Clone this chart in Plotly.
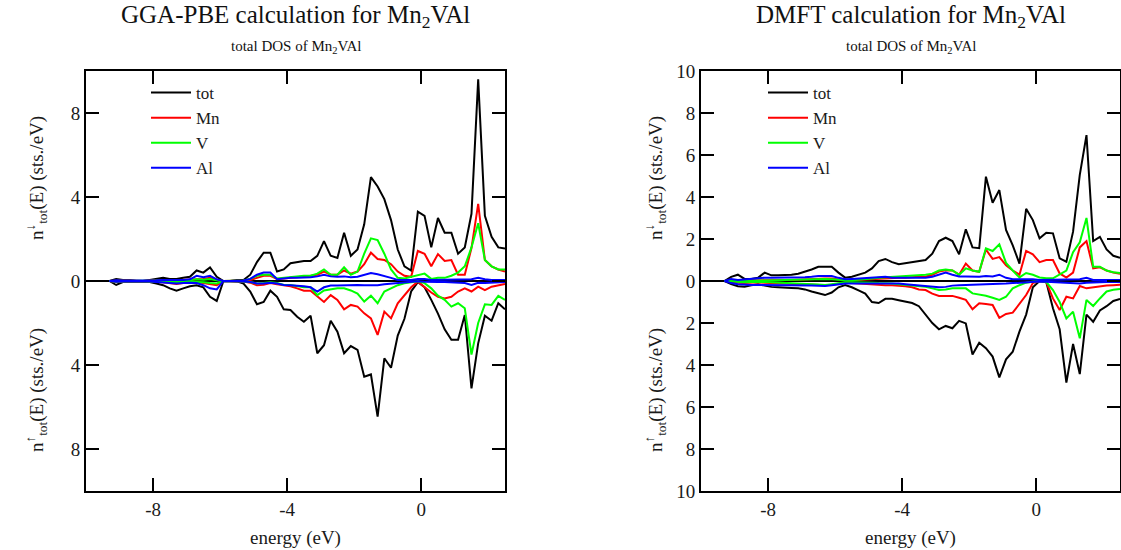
import plotly.graph_objects as go
from plotly.subplots import make_subplots

# ===== data =====
energy = [-9.3, -9.1, -8.9, -8.7, -8.5, -8.3, -8.1, -7.9, -7.7, -7.5,
          -7.3, -7.1, -6.9, -6.7, -6.5, -6.3, -6.1, -5.9, -5.7, -5.5,
          -5.3, -5.1, -4.9, -4.7, -4.5, -4.3, -4.1, -3.9, -3.7, -3.5,
          -3.3, -3.1, -2.9, -2.7, -2.5, -2.3, -2.1, -1.9, -1.7, -1.5,
          -1.3, -1.1, -0.9, -0.7, -0.5, -0.3, -0.1, 0.1, 0.3, 0.5,
          0.7, 0.9, 1.1, 1.3, 1.5, 1.7, 1.9, 2.1, 2.3, 2.5]

# GGA-PBE, spin down (upper half)
gga_tot_dn = [0, 0.1, 0.05, 0.05, 0, 0, 0.05, 0.1, 0.15, 0.1,
              0.1, 0.15, 0.2, 0.5, 0.4, 0.65, 0.2, 0, 0, 0.05,
              0.05, 0.3, 0.9, 1.35, 1.35, 0.45, 0.55, 0.85, 0.9, 0.95,
              0.95, 1.2, 1.9, 1.2, 1.1, 2.3, 1.2, 1.5, 2.7, 4.95,
              4.5, 3.9, 2.9, 1.5, 0.7, 0.5, 3.3, 3.1, 1.6, 3.0,
              2.3, 2.3, 1.3, 1.6, 3.2, 9.6, 3.1, 2.1, 1.6, 1.55]
gga_mn_dn = [0, 0.02, 0.02, 0.02, 0, 0, 0.02, 0.03, 0.05, 0.03,
             0.03, 0.05, 0.05, 0.1, 0.1, 0.15, 0.05, 0, 0, 0,
             0.02, 0.05, 0.15, 0.25, 0.25, 0.1, 0.12, 0.15, 0.2, 0.2,
             0.25, 0.3, 0.45, 0.3, 0.3, 0.5, 0.35, 0.45, 0.8, 1.35,
             1.05, 1.0, 0.8, 0.45, 0.25, 0.2, 1.43, 1.3, 0.7, 1.28,
             0.95, 1.0, 0.3, 0.3, 1.57, 3.67, 1.0, 0.7, 0.55, 0.45]
gga_v_dn = [0, 0.02, 0.01, 0.01, 0, 0, 0.01, 0.02, 0.02, 0.02,
            0.02, 0.03, 0.03, 0.08, 0.06, 0.1, 0.03, 0, 0, 0,
            0.02, 0.1, 0.25, 0.3, 0.3, 0.12, 0.15, 0.2, 0.22, 0.25,
            0.25, 0.35, 0.55, 0.3, 0.3, 0.65, 0.3, 0.45, 1.3, 2.03,
            1.95, 1.3, 0.55, 0.15, 0.12, 0.2, 0.3, 0.35, 0.1, 0.15,
            0.15, 0.25, 0.4, 0.7, 1.6, 2.75, 1.0, 0.7, 0.55, 0.55]
gga_al_dn = [0, 0.03, 0.02, 0.02, 0, 0, 0.02, 0.03, 0.05, 0.04,
             0.04, 0.05, 0.08, 0.25, 0.18, 0.25, 0.08, 0, 0, 0,
             0.02, 0.1, 0.3, 0.4, 0.4, 0.08, 0.12, 0.15, 0.15, 0.15,
             0.18, 0.22, 0.3, 0.22, 0.2, 0.22, 0.18, 0.2, 0.3, 0.38,
             0.32, 0.25, 0.15, 0.05, 0.05, 0.05, 0.1, 0.1, 0.05, 0.05,
             0.05, 0.05, 0.05, 0.05, 0.08, 0.15, 0.08, 0.05, 0.05, 0.05]

# GGA-PBE, spin up (lower half, plotted negative)
gga_tot_up = [0, 0.19, 0.05, 0.05, 0.02, 0.02, 0.05, 0.12, 0.2, 0.35,
              0.46, 0.35, 0.25, 0.2, 0.3, 0.75, 0.95, 0, 0, 0.02,
              0.12, 0.5, 1.11, 1.0, 0.46, 0.75, 1.35, 1.38, 1.7, 1.94,
              1.65, 3.44, 3.06, 1.89, 2.41, 3.44, 3.1, 3.28, 4.56, 4.45,
              6.46, 3.68, 4.13, 2.6, 1.8, 0.5, 0.05, 0.3, 0.9, 1.55,
              2.3, 2.8, 2.8, 1.62, 5.11, 2.97, 1.65, 1.89, 1.06, 1.35]
gga_mn_up = [0, 0.05, 0.02, 0.02, 0.01, 0.01, 0.02, 0.04, 0.06, 0.1,
             0.14, 0.1, 0.08, 0.06, 0.1, 0.15, 0.2, 0, 0, 0,
             0.03, 0.08, 0.2, 0.18, 0.1, 0.15, 0.19, 0.25, 0.35, 0.46,
             0.46, 0.71, 1.0, 0.67, 0.9, 1.35, 1.14, 1.22, 1.54, 1.78,
             2.57, 1.46, 1.78, 1.06, 0.67, 0.3, 0.03, 0.3, 0.55, 0.75,
             0.83, 0.75, 0.5, 0.35, 0.5, 0.27, 0.43, 0.27, 0.2, 0.14]
gga_v_up = [0, 0.03, 0.01, 0.01, 0, 0, 0.01, 0.02, 0.03, 0.05,
            0.06, 0.05, 0.04, 0.04, 0.06, 0.1, 0.12, 0, 0, 0,
            0.02, 0.05, 0.12, 0.1, 0.06, 0.1, 0.19, 0.19, 0.25, 0.3,
            0.3, 0.67, 0.45, 0.4, 0.35, 0.35, 0.45, 0.6, 0.98, 0.7,
            1.06, 0.5, 0.35, 0.2, 0.11, 0.05, 0.01, 0.1, 0.35, 0.7,
            0.9, 1.22, 1.06, 1.3, 3.5, 2.0, 1.11, 1.14, 0.71, 0.9]
gga_al_up = [0, 0.03, 0.02, 0.02, 0.01, 0.01, 0.02, 0.05, 0.08, 0.1,
             0.12, 0.1, 0.08, 0.1, 0.2, 0.35, 0.4, 0, 0, 0,
             0.02, 0.05, 0.12, 0.12, 0.08, 0.12, 0.19, 0.2, 0.22, 0.25,
             0.3, 0.5, 0.3, 0.22, 0.22, 0.2, 0.19, 0.19, 0.2, 0.19,
             0.2, 0.15, 0.12, 0.1, 0.08, 0.05, 0.01, 0.03, 0.05, 0.05,
             0.05, 0.06, 0.08, 0.1, 0.19, 0.08, 0.1, 0.08, 0.06, 0.05]

# DMFT, spin down (upper half)
dmft_tot_dn = [0, 0.2, 0.3, 0.1, 0.1, 0.15, 0.4, 0.27, 0.27, 0.27,
               0.3, 0.35, 0.44, 0.55, 0.68, 0.68, 0.68, 0.4, 0.16, 0.2,
               0.3, 0.4, 0.6, 0.95, 1.05, 0.9, 0.8, 0.85, 0.9, 0.95,
               1.0, 1.3, 1.9, 2.06, 1.9, 1.27, 2.46, 1.6, 1.56, 4.97,
               3.73, 4.33, 2.43, 1.7, 0.83, 3.44, 2.9, 2.03, 2.3, 2.27,
               1.08, 0.92, 2.35, 5.05, 6.95, 1.9, 2.1, 1.5, 1.2, 1.1]
dmft_mn_dn = [0, 0.02, 0.03, 0.02, 0.02, 0.02, 0.05, 0.05, 0.05, 0.05,
              0.05, 0.06, 0.08, 0.1, 0.12, 0.12, 0.12, 0.08, 0.03, 0.03,
              0.05, 0.06, 0.08, 0.1, 0.12, 0.12, 0.15, 0.15, 0.18, 0.2,
              0.2, 0.3, 0.45, 0.51, 0.5, 0.3, 0.83, 0.5, 0.44, 1.5,
              1.05, 1.14, 0.75, 0.5, 0.3, 1.43, 1.27, 0.9, 1.0, 1.0,
              0.36, 0.16, 0.4, 1.6, 1.9, 0.6, 0.65, 0.5, 0.4, 0.35]
dmft_v_dn = [0, 0.02, 0.02, 0.01, 0.01, 0.01, 0.03, 0.03, 0.04, 0.05,
             0.06, 0.07, 0.08, 0.1, 0.1, 0.1, 0.08, 0.05, 0.03, 0.03,
             0.05, 0.08, 0.12, 0.15, 0.17, 0.2, 0.22, 0.25, 0.28, 0.3,
             0.3, 0.35, 0.5, 0.55, 0.5, 0.3, 0.6, 0.5, 0.44, 1.56,
             1.43, 1.75, 0.86, 0.5, 0.17, 0.38, 0.3, 0.17, 0.13, 0.13,
             0.3, 0.5, 1.37, 1.84, 3.0, 0.68, 0.68, 0.5, 0.42, 0.38]
dmft_al_dn = [0, 0.1, 0.05, 0.08, 0.12, 0.15, 0.16, 0.16, 0.16, 0.16,
              0.16, 0.17, 0.18, 0.2, 0.24, 0.24, 0.24, 0.15, 0.08, 0.1,
              0.12, 0.14, 0.16, 0.2, 0.2, 0.16, 0.16, 0.16, 0.16, 0.16,
              0.16, 0.2, 0.3, 0.4, 0.3, 0.22, 0.22, 0.2, 0.2, 0.24,
              0.22, 0.3, 0.15, 0.08, 0.08, 0.1, 0.08, 0.05, 0.05, 0.05,
              0.05, 0.05, 0.05, 0.08, 0.15, 0.05, 0.05, 0.05, 0.05, 0.05]

# DMFT, spin up (lower half, plotted negative)
dmft_tot_up = [0, 0.15, 0.25, 0.27, 0.2, 0.15, 0.22, 0.28, 0.3, 0.3,
               0.33, 0.35, 0.4, 0.5, 0.6, 0.67, 0.55, 0.3, 0.19, 0.3,
               0.45, 0.6, 1.0, 1.05, 0.85, 0.85, 0.92, 0.98, 1.05, 1.2,
               1.6, 2.0, 2.3, 2.14, 2.25, 1.9, 2.02, 3.5, 2.94, 3.2,
               3.6, 4.59, 3.73, 3.37, 2.41, 1.6, 0.3, 0.0, 0.05, 1.3,
               2.3, 4.84, 3.0, 4.43, 1.6, 1.94, 1.4, 1.2, 0.95, 0.85]
dmft_mn_up = [0, 0.05, 0.08, 0.1, 0.08, 0.06, 0.08, 0.1, 0.12, 0.13,
              0.14, 0.15, 0.16, 0.18, 0.18, 0.2, 0.18, 0.12, 0.08, 0.1,
              0.12, 0.15, 0.18, 0.2, 0.2, 0.2, 0.22, 0.25, 0.3, 0.4,
              0.43, 0.6, 0.71, 0.7, 0.71, 0.8, 0.9, 1.35, 1.06, 1.1,
              1.14, 1.75, 1.57, 1.51, 1.06, 0.67, 0.1, 0.0, 0.05, 0.83,
              1.38, 0.75, 0.83, 0.24, 0.35, 0.3, 0.27, 0.22, 0.2, 0.18]
dmft_v_up = [0, 0.03, 0.05, 0.06, 0.05, 0.04, 0.05, 0.06, 0.07, 0.08,
             0.1, 0.12, 0.13, 0.15, 0.17, 0.19, 0.15, 0.1, 0.06, 0.06,
             0.06, 0.07, 0.08, 0.1, 0.1, 0.12, 0.15, 0.18, 0.2, 0.22,
             0.27, 0.35, 0.43, 0.4, 0.35, 0.35, 0.35, 0.59, 0.63, 0.7,
             0.8, 0.9, 0.75, 0.35, 0.2, 0.08, 0.02, 0.0, 0.05, 0.43,
             1.0, 1.78, 1.46, 2.73, 0.9, 1.19, 0.83, 0.5, 0.42, 0.38]
dmft_al_up = [0, 0.1, 0.15, 0.18, 0.19, 0.19, 0.19, 0.19, 0.19, 0.19,
              0.19, 0.2, 0.2, 0.22, 0.23, 0.24, 0.2, 0.15, 0.12, 0.12,
              0.12, 0.11, 0.1, 0.1, 0.1, 0.1, 0.12, 0.15, 0.18, 0.22,
              0.25, 0.28, 0.3, 0.28, 0.22, 0.2, 0.19, 0.19, 0.19, 0.18,
              0.16, 0.15, 0.12, 0.1, 0.08, 0.06, 0.03, 0.02, 0.04, 0.05,
              0.08, 0.1, 0.1, 0.12, 0.08, 0.06, 0.05, 0.05, 0.05, 0.05]

species = ["tot", "Mn", "V", "Al"]
colors = ["#000000", "#ff0000", "#00ff00", "#0000ff"]

gga_dn = [gga_tot_dn, gga_mn_dn, gga_v_dn, gga_al_dn]
gga_up = [gga_tot_up, gga_mn_up, gga_v_up, gga_al_up]
dmft_dn = [dmft_tot_dn, dmft_mn_dn, dmft_v_dn, dmft_al_dn]
dmft_up = [dmft_tot_up, dmft_mn_up, dmft_v_up, dmft_al_up]

x_ticks = [-8, -4, 0]
yl_ticks = [-8, -4, 0, 4, 8]
yr_ticks = [-10, -8, -6, -4, -2, 0, 2, 4, 6, 8, 10]

FONT = "Liberation Serif"
TXT = "#1a1a1a"
W, H = 1121, 550


def px(sx):
    return sx / W


def py(sy):
    return 1 - sy / H


fig = make_subplots(rows=1, cols=2)

for col, (dn, up, leg) in enumerate([(gga_dn, gga_up, "legend"), (dmft_dn, dmft_up, "legend2")], start=1):
    for name, c, ydn, yup in zip(species, colors, dn, up):
        fig.add_trace(go.Scatter(x=energy, y=ydn, mode="lines", name=name,
                                 line=dict(color=c, width=2), legend=leg),
                      row=1, col=col)
        fig.add_trace(go.Scatter(x=energy, y=[-v for v in yup], mode="lines", name=name,
                                 line=dict(color=c, width=2), legend=leg,
                                 showlegend=False),
                      row=1, col=col)

# ===== axes =====
ax_common = dict(showline=True, linecolor="black", linewidth=2, mirror="ticks",
                 ticks="inside", ticklen=13, tickwidth=2, tickcolor="black",
                 showgrid=False, automargin=False,
                 tickfont=dict(family=FONT, size=19, color=TXT))

fig.update_xaxes(**ax_common, range=[-10, 2.5], zeroline=False,
                 tickvals=x_ticks, ticktext=[str(v) for v in x_ticks],
                 title=dict(text="energy (eV)", font=dict(family=FONT, size=19, color=TXT),
                            standoff=12))
fig.update_xaxes(domain=[px(86), px(505)], row=1, col=1)
fig.update_xaxes(domain=[px(701), px(1120)], row=1, col=2)

fig.update_yaxes(**ax_common, range=[-10, 10], domain=[py(491), py(71)], zeroline=True,
                 zerolinecolor="black", zerolinewidth=2)
fig.update_yaxes(tickvals=yl_ticks, ticktext=[str(abs(v)) for v in yl_ticks], row=1, col=1)
fig.update_yaxes(tickvals=yr_ticks, ticktext=[str(abs(v)) for v in yr_ticks], row=1, col=2)

# ===== titles and y labels =====
ann = []
for cx, title in [(295.5, "GGA-PBE calculation for Mn<sub>2</sub>VAl"),
                  (911, "DMFT calculation for Mn<sub>2</sub>VAl")]:
    ann.append(dict(x=px(cx), y=py(17), text=title, showarrow=False,
                    xref="paper", yref="paper", xanchor="center", yanchor="middle",
                    font=dict(family=FONT, size=25, color="#111")))
    ann.append(dict(x=px(cx), y=py(47), text="total DOS of Mn<sub>2</sub>VAl", showarrow=False,
                    xref="paper", yref="paper", xanchor="center", yanchor="middle",
                    font=dict(family=FONT, size=15, color="#111")))
for lx in [36, 655]:
    for ly, arrow in [(178, "↓"), (390, "↑")]:
        ann.append(dict(x=px(lx), y=py(ly),
                        text="n<sup>" + arrow + "</sup><sub>tot</sub>(E) (sts./eV)",
                        showarrow=False, textangle=-90, xref="paper", yref="paper",
                        xanchor="center", yanchor="middle",
                        font=dict(family=FONT, size=19, color=TXT)))

legend_style = dict(font=dict(family=FONT, size=17, color=TXT),
                    bgcolor="rgba(0,0,0,0)",
                    xanchor="left", yanchor="top", tracegroupgap=0, itemwidth=40)

fig.update_layout(
    width=W, height=H,
    margin=dict(l=0, r=0, t=0, b=0),
    plot_bgcolor="white", paper_bgcolor="white",
    annotations=ann,
    legend=dict(x=px(146), y=py(75), **legend_style),
    legend2=dict(x=px(763), y=py(75), **legend_style),
)

# drop the default 8px page margin so the figure sits at the window's top-left corner
fig.write_html("out.html", config={"displayModeBar": False},
               post_script="document.body.style.margin='0px';")
